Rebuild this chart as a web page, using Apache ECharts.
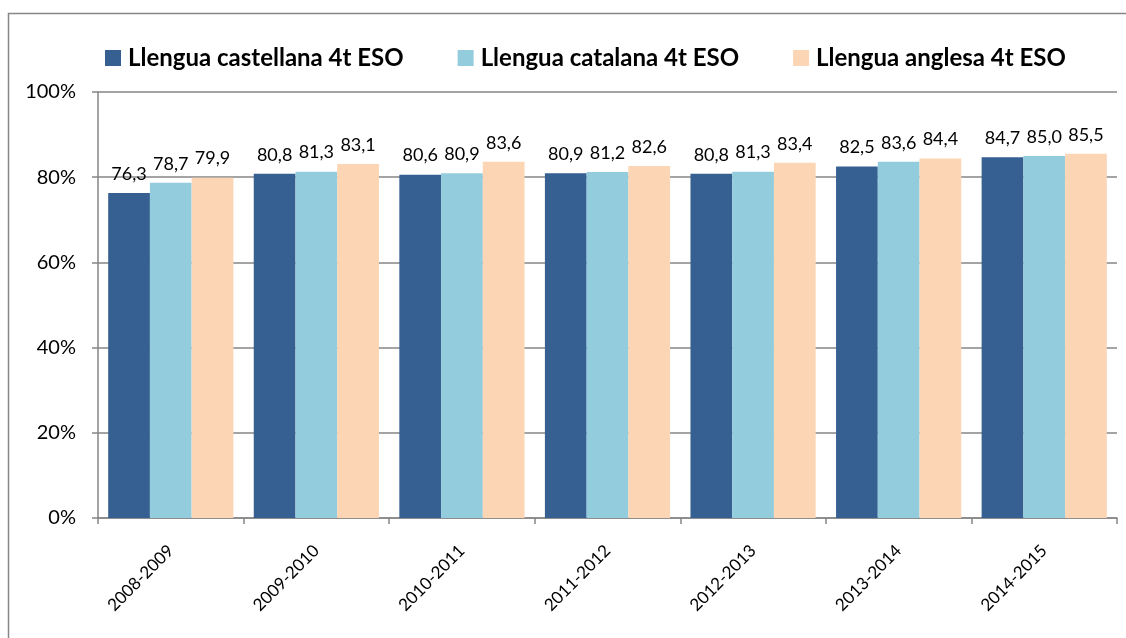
<!DOCTYPE html>
<html>
<head>
<meta charset="utf-8">
<script src="https://cdn.jsdelivr.net/npm/echarts@6/dist/echarts.min.js"></script>
<style>
  html, body { margin: 0; padding: 0; background: #fff; }
  #main { width: 1126px; height: 638px; }
</style>
</head>
<body>
<div id="main"></div>
<script>
var cursos = ['2008-2009', '2009-2010', '2010-2011', '2011-2012', '2012-2013', '2013-2014', '2014-2015']
var castellana = [76.3, 80.8, 80.6, 80.9, 80.8, 82.5, 84.7]
var catalana = [78.7, 81.3, 80.9, 81.2, 81.3, 83.6, 85.0]
var anglesa = [79.9, 83.1, 83.6, 82.6, 83.4, 84.4, 85.5]
var noms = ['Llengua castellana 4t ESO', 'Llengua catalana 4t ESO', 'Llengua anglesa 4t ESO']

var font = 'Lato, "Open Sans", sans-serif'
var grey = '#868686'

function etiqueta(p) {
  return p.value.toFixed(1).replace('.', ',')
}

function serie(name, data, color) {
  return {
    name: name,
    type: 'bar',
    data: data,
    barGap: '0%',
    barCategoryGap: '14%',
    itemStyle: { color: color },
    label: {
      show: true,
      position: 'top',
      distance: 10,
      color: '#000',
      fontFamily: font,
      fontSize: 18,
      formatter: etiqueta
    }
  }
}

var chart = echarts.init(document.getElementById('main'))
var option = {
  animation: false,
  textStyle: { fontFamily: font },
  graphic: [{
    type: 'rect',
    shape: { x: 8.5, y: 13.5, width: 1140, height: 660 },
    style: { fill: 'none', stroke: grey, lineWidth: 1.5 },
    silent: true
  }],
  legend: {
    top: 41,
    left: 100,
    itemWidth: 16,
    itemHeight: 16,
    itemGap: 54,
    icon: 'rect',
    textStyle: { fontFamily: font, fontSize: 24, fontWeight: 'bold', color: '#000', padding: [0, 0, 0, 2] },
    data: noms
  },
  grid: { left: 98, right: 9, top: 92, bottom: 120 },
  xAxis: {
    type: 'category',
    data: cursos,
    axisLine: { lineStyle: { color: grey, width: 1.5 } },
    axisTick: { show: true, length: 6, lineStyle: { color: grey, width: 1.5 } },
    axisLabel: { rotate: 45, color: '#000', fontSize: 17, fontFamily: font, margin: 30 }
  },
  yAxis: {
    type: 'value',
    min: 0,
    max: 100,
    interval: 20,
    axisLine: { show: true, lineStyle: { color: grey, width: 1.5 } },
    axisTick: { show: true, length: 6, lineStyle: { color: grey, width: 1.5 } },
    axisLabel: { formatter: '{value}%', color: '#000', fontSize: 20, fontFamily: font, margin: 22 },
    splitLine: { lineStyle: { color: grey, width: 1.5 } }
  },
  series: [
    serie(noms[0], castellana, '#376092'),
    serie(noms[1], catalana, '#93CDDD'),
    serie(noms[2], anglesa, '#FCD5B5')
  ]
}
chart.setOption(option)
</script>
</body>
</html>
